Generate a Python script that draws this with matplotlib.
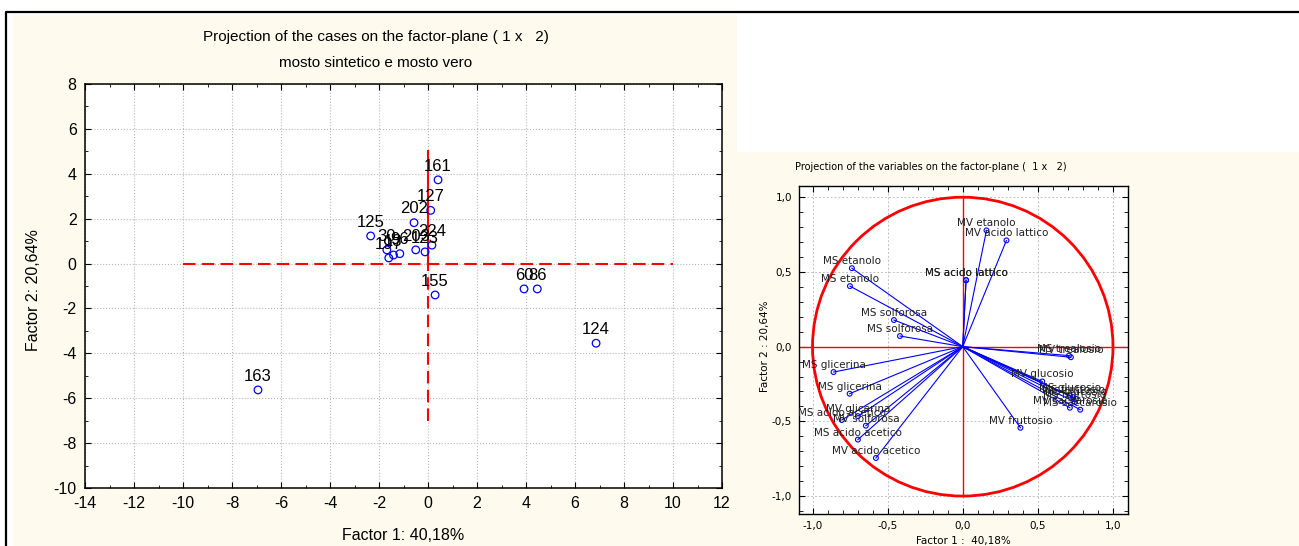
import matplotlib
matplotlib.use("Agg")
import matplotlib.pyplot as plt
import numpy as np
from matplotlib.patches import Rectangle, Circle
from matplotlib.lines import Line2D
from matplotlib.ticker import MultipleLocator, FuncFormatter

# cases: factor scores on factor 1 / factor 2
case_labels = ["161", "127", "202", "125", "224", "123", "203", "96",
               "13", "197", "30", "155", "60", "86", "124", "163"]
case_f1 = [0.41, 0.11, -0.57, -2.34, 0.16, -0.12, -0.50, -1.15,
           -1.41, -1.60, -1.68, 0.29, 3.92, 4.46, 6.86, -6.94]
case_f2 = [3.73, 2.37, 1.82, 1.23, 0.82, 0.52, 0.61, 0.44,
           0.38, 0.25, 0.61, -1.40, -1.13, -1.13, -3.55, -5.63]

# variables: loadings on factor 1 / factor 2
var_labels = ["MV etanolo", "MV acido lattico", "MS acido lattico", "MS acido lattico",
              "MS etanolo", "MS etanolo", "MS solforosa", "MS solforosa",
              "MS glicerina", "MS glicerina", "MV glicerina", "MS acido acetico",
              "MV solforosa", "MS acido acetico", "MV acido acetico", "MV fruttosio",
              "MS trealosio", "MV trealosio", "MV glucosio", "MS glucosio",
              "MS fruttosio", "MS glucosio", "MS fruttosio", "MV saccarosio",
              "MS saccarosio"]
var_f1 = [0.158, 0.291, 0.022, 0.022, -0.738, -0.751, -0.458, -0.418,
          -0.860, -0.753, -0.698, -0.805, -0.645, -0.698, -0.578, 0.384,
          0.707, 0.720, 0.529, 0.713, 0.735, 0.753, 0.747, 0.713, 0.782]
var_f2 = [0.778, 0.711, 0.445, 0.445, 0.525, 0.405, 0.178, 0.071,
          -0.170, -0.315, -0.465, -0.491, -0.529, -0.622, -0.745, -0.543,
          -0.060, -0.071, -0.233, -0.327, -0.338, -0.349, -0.371, -0.409, -0.422]

W, H = 1299, 546
CREAM = "#fefaee"
plt.rcParams["font.family"] = ["Liberation Sans Narrow", "Liberation Sans", "DejaVu Sans"]
plt.rcParams["axes.unicode_minus"] = False

fig = plt.figure(figsize=(W / 100, H / 100), dpi=100, facecolor="white")


def fx(px):
    return px / W


def fy(py):
    return 1 - py / H


# panel backgrounds and outer frame
fig.patches.append(Rectangle((fx(13), 0), fx(737 - 13), fy(15), transform=fig.transFigure,
                             facecolor=CREAM, edgecolor="none", zorder=-10))
fig.patches.append(Rectangle((fx(737), 0), fx(W - 737), fy(152), transform=fig.transFigure,
                             facecolor=CREAM, edgecolor="none", zorder=-10))
fig.lines.append(Line2D([fx(6), fx(6), 1.0], [0, fy(12), fy(12)], transform=fig.transFigure,
                        color="black", lw=1.6))

# ---------------- cases ----------------
ax1 = fig.add_axes([fx(85), fy(488), fx(722 - 85), (488 - 84) / H])
ax1.set_facecolor("white")
ax1.set_xlim(-14, 12)
ax1.set_ylim(-10, 8)
ax1.xaxis.set_major_locator(MultipleLocator(2))
ax1.xaxis.set_minor_locator(MultipleLocator(1))
ax1.yaxis.set_major_locator(MultipleLocator(2))
ax1.yaxis.set_minor_locator(MultipleLocator(1))
ax1.tick_params(which="both", direction="in", top=True, right=True, labelsize=11.5, pad=6)
ax1.tick_params(which="major", length=4)
ax1.tick_params(which="minor", length=2)
ax1.grid(True, which="major", ls=":", color="#b8b8b8", lw=0.8)
for s in ax1.spines.values():
    s.set_linewidth(1.1)

ax1.plot([-10, 10], [0, 0], color="red", ls=(0, (6, 3)), lw=1.5, zorder=2)
ax1.plot([0, 0], [-7, 0], color="red", ls=(0, (6, 3)), lw=1.5, zorder=2)
ax1.plot([0, 0], [0, 5], color="red", lw=1.5, zorder=2)

ax1.scatter(case_f1, case_f2, s=30, facecolors="none", edgecolors="blue", lw=0.9, zorder=3)
for lab, x, y in zip(case_labels, case_f1, case_f2):
    ax1.annotate(lab, (x, y), xytext=(0, 4.5), textcoords="offset points",
                 ha="center", va="bottom", fontsize=12, zorder=4)

fig.text(fx(376), fy(37), "Projection of the cases on the factor-plane ( 1 x   2)",
         ha="center", va="center", fontsize=11)
fig.text(fx(376), fy(63), "mosto sintetico e mosto vero", ha="center", va="center", fontsize=11)
fig.text(fx(403), fy(535), "Factor 1: 40,18%", ha="center", va="center", fontsize=11.5)
fig.text(fx(33), fy(290), "Factor 2: 20,64%", ha="center", va="center", rotation=90, fontsize=11.5)

# ---------------- variables ----------------
ax2 = fig.add_axes([fx(799), fy(514), fx(1128 - 799), (514 - 186) / H])
ax2.set_facecolor("white")
ax2.set_xlim(-1.09, 1.1)
ax2.set_ylim(-1.12, 1.075)
for axis in (ax2.xaxis, ax2.yaxis):
    axis.set_major_locator(MultipleLocator(0.5))
    axis.set_minor_locator(MultipleLocator(0.1))
    axis.set_major_formatter(FuncFormatter(lambda v, p: f"{v:.1f}".replace(".", ",").replace("-0,0", "0,0")))
ax2.tick_params(which="both", direction="in", top=True, right=True, labelsize=7.5,
                labelfontfamily="DejaVu Sans", pad=5)
ax2.tick_params(which="major", length=4)
ax2.tick_params(which="minor", length=3)
ax2.grid(True, which="major", ls=(0, (2, 2)), color="#c0c0c0", lw=0.7)
for s in ax2.spines.values():
    s.set_linewidth(1.0)

ax2.axhline(0, color="red", lw=1.0, zorder=2)
ax2.plot([0, 0], [-1, 1], color="red", lw=1.0, zorder=2)
ax2.add_patch(Circle((0, 0), 1.0, fill=False, edgecolor="red", lw=2.0, zorder=2))

for x, y in zip(var_f1, var_f2):
    ax2.plot([0, x], [0, y], color="blue", lw=0.8, zorder=3)
ax2.scatter(var_f1, var_f2, s=12, facecolors="none", edgecolors="blue", lw=0.8, zorder=4)
for lab, x, y in zip(var_labels, var_f1, var_f2):
    ax2.annotate(lab, (x, y), xytext=(0, 1.5), textcoords="offset points",
                 ha="center", va="bottom", fontsize=7.5, family="DejaVu Sans",
                 color="#202020", zorder=5)

fig.text(fx(795), fy(167), "Projection of the variables on the factor-plane (  1 x   2)",
         ha="left", va="center", fontsize=7, family="DejaVu Sans")
fig.text(fx(963), fy(541), "Factor 1 :  40,18%", ha="center", va="center", fontsize=7.5,
         family="DejaVu Sans")
fig.text(fx(765), fy(346), "Factor 2 : 20,64%", ha="center", va="center", rotation=90,
         fontsize=7.5, family="DejaVu Sans")

fig.savefig("out.png", dpi=100)
